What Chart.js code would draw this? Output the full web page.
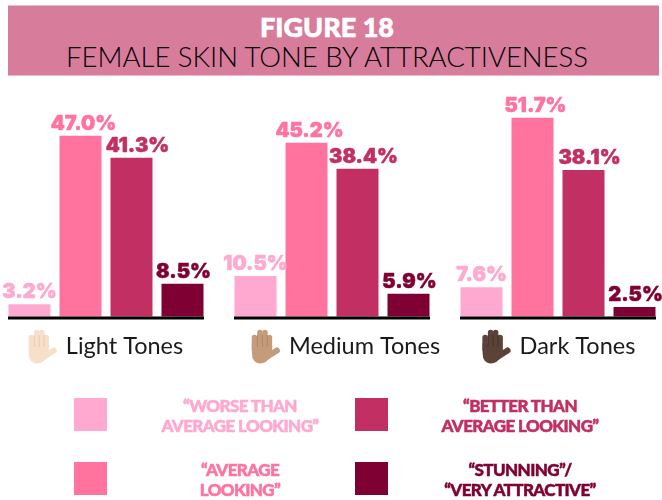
<!DOCTYPE html>
<html>
<head>
<meta charset="utf-8">
<script src="https://cdn.jsdelivr.net/npm/chart.js@4/dist/chart.umd.min.js"></script>
<style>
    html, body { margin: 0; padding: 0; background: #fff; overflow: hidden; }
    body { width: 662px; height: 500px; position: relative; font-family: Lato, sans-serif; }
    #chart { position: absolute; left: 0; top: 0; }
    #header { position: absolute; left: 8px; top: 5px; width: 651px; height: 71px; background: #d87c9c;
        border-top: 1px solid #eeb8cb; border-bottom: 1px solid #eeb8cb; box-sizing: border-box; text-align: center; }
    #header div { position: absolute; left: 0; width: 638px; }
    #figure { top: 5px; color: #fff; font-weight: 900; font-size: 27px; line-height: 32px; -webkit-text-stroke: 0.6px #fff; }
    #subtitle { top: 35px; color: #000; font-weight: 300; font-size: 27.5px; line-height: 32px; }
    .swatch { position: absolute; width: 33px; height: 33px; }
    .entry { position: absolute; width: 240px; text-align: center; font-weight: 900; font-size: 17px; line-height: 19.5px;
        letter-spacing: -0.6px; white-space: pre; -webkit-text-stroke: 0.5px currentColor; }
</style>
</head>
<body>
<canvas id="chart" width="662" height="500"></canvas>
<div id="header">
    <div id="figure">FIGURE 18</div>
    <div id="subtitle">FEMALE SKIN TONE BY ATTRACTIVENESS</div>
</div>
<div id="legend"></div>
<script>
const tones = ['Light Tones', 'Medium Tones', 'Dark Tones'];
const worseValues = [3.2, 10.5, 7.6];
const averageValues = [47.0, 45.2, 51.7];
const betterValues = [41.3, 38.4, 38.1];
const stunningValues = [8.5, 5.9, 2.5];
const answerLabels = [
    '“WORSE THAN\nAVERAGE LOOKING”',
    '“AVERAGE\nLOOKING”',
    '“BETTER THAN\nAVERAGE LOOKING”',
    '“STUNNING”/\n“VERY ATTRACTIVE”'
];
const answerColors = ['#ffa8d0', '#ff739e', '#c12f63', '#7f0032'];
const handColors = ['#f7e0cb', '#c59c7b', '#5b4339'];
const handShades = ['#e6c7ab', '#a87f5f', '#3f2d26'];

// Labels are not centred on their bars or groups in the original
const toneNudge = [-1, 13, 0];
const valueNudge = [0, 3, 6, 1];

function drawHand(ctx, x, y, color, shade) {
    ctx.save();
    ctx.translate(x, y);
    ctx.lineCap = 'round';
    ctx.lineJoin = 'round';
    ctx.strokeStyle = color;
    ctx.fillStyle = color;

    // palm
    ctx.beginPath();
    ctx.moveTo(2, 14);
    ctx.lineTo(21, 14);
    ctx.lineTo(21, 26);
    ctx.quadraticCurveTo(17, 34, 10, 34);
    ctx.quadraticCurveTo(2, 33, 2, 24);
    ctx.closePath();
    ctx.fill();

    // fingers
    ctx.lineWidth = 5.5;
    [[4.5, 8], [10, 3], [15, 3], [19.5, 8]].forEach(f => {
        ctx.beginPath();
        ctx.moveTo(f[0], 20);
        ctx.lineTo(f[0], f[1]);
        ctx.stroke();
    });

    // thumb
    ctx.lineWidth = 6;
    ctx.beginPath();
    ctx.moveTo(16, 28);
    ctx.lineTo(27, 21);
    ctx.stroke();

    // finger gaps
    ctx.strokeStyle = shade;
    ctx.lineWidth = 0.8;
    [7.5, 12.5, 17.3].forEach(g => {
        ctx.beginPath();
        ctx.moveTo(g, 6);
        ctx.lineTo(g, 17);
        ctx.stroke();
    });
    ctx.restore();
}

const groupDecor = {
    id: 'groupDecor',
    afterDatasetsDraw(chart) {
        const ctx = chart.ctx;
        const xScale = chart.scales.x;
        const base = chart.scales.y.getPixelForValue(0);

        ctx.save();

        // value labels above each bar
        chart.data.datasets.forEach((ds, i) => {
            chart.getDatasetMeta(i).data.forEach((bar, j) => {
                const text = ds.data[j].toFixed(1) + '%';
                ctx.fillStyle = ds.backgroundColor;
                ctx.strokeStyle = ds.backgroundColor;
                ctx.lineWidth = 0.5;
                ctx.font = '900 20px Inter';
                ctx.textAlign = 'center';
                ctx.textBaseline = 'alphabetic';
                ctx.fillText(text, bar.x + valueNudge[i], bar.y - 6);
                ctx.strokeText(text, bar.x + valueNudge[i], bar.y - 6);
            });
        });

        // baseline per group, hand and tone name below
        tones.forEach((tone, i) => {
            const cx = xScale.getPixelForValue(i);
            ctx.fillStyle = '#000';
            ctx.fillRect(cx - 98, base, 196, 3);

            ctx.font = '400 23.5px Lato';
            ctx.textAlign = 'left';
            ctx.fillStyle = '#1a1a1a';
            const w = ctx.measureText(tone).width;
            const left = cx + toneNudge[i] - (w + 39) / 2;
            drawHand(ctx, left, base + 13, handColors[i], handShades[i]);
            ctx.fillText(tone, left + 39, base + 37);
        });

        ctx.restore();
    }
};

const answers = [worseValues, averageValues, betterValues, stunningValues];

const chart = new Chart(document.getElementById('chart').getContext('2d'), {
    type: 'bar',
    data: {
        labels: tones,
        datasets: answers.map((values, i) => ({
            label: answerLabels[i].replace('\n', ' '),
            data: values,
            backgroundColor: answerColors[i],
            categoryPercentage: 0.9027,
            barPercentage: 0.8235,
            clip: false
        }))
    },
    options: {
        responsive: false,
        animation: false,
        layout: { padding: { left: 106, right: 104, top: 105, bottom: 183.5 } },
        plugins: { legend: { display: false }, tooltip: { enabled: false } },
        scales: {
            x: { display: false, offset: false },
            y: { display: false, min: 0, max: 55 }
        }
    },
    plugins: [groupDecor]
});

// Legend is two columns of centred two-line labels
const legendBox = document.getElementById('legend');
answerLabels.forEach((text, i) => {
    const col = i < 2 ? 0 : 1;
    const row = i % 2;
    const swatch = document.createElement('div');
    swatch.className = 'swatch';
    swatch.style.left = (74 + col * 281) + 'px';
    swatch.style.top = (398 + row * 64) + 'px';
    swatch.style.background = answerColors[i];
    legendBox.appendChild(swatch);

    const entry = document.createElement('div');
    entry.className = 'entry';
    entry.style.left = (120 + col * 280) + 'px';
    entry.style.top = (396 + row * 64) + 'px';
    entry.style.color = answerColors[i];
    entry.textContent = text;
    legendBox.appendChild(entry);
});
</script>
</body>
</html>
